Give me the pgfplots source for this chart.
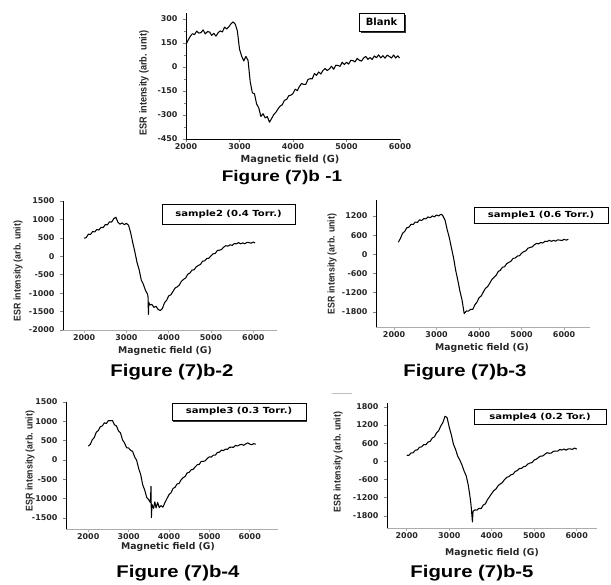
\documentclass[border=0pt]{standalone}
\usepackage{fontspec}
\setmainfont{Liberation Sans}
\newfontfamily\tickfont{DejaVu Sans}
\usepackage{graphicx}
\usepackage{pgfplots}
\pgfplotsset{compat=1.18}

\pgfplotsset{
  esr/.style={
    scale only axis,
    axis lines=left,
    axis line style={-, line width=0.8bp},
    enlargelimits=false,
    tick align=outside,
    tick pos=left,
    major tick length=3bp,
    tick style={line width=0.6bp},
    ticklabel style={font=\tickfont\bfseries\fontsize{8}{8}\selectfont, text=black!85},
    yticklabel style={xshift=-2bp},
    xticklabel style={yshift=2bp},
    /pgf/number format/assume math mode=true,
    /pgf/number format/1000 sep={},
    xtick={2000,3000,4000,5000,6000},
  },
  lower/.style={
    esr,
    x axis line style={gray!65, line width=1bp},
    xtick style={gray!65},
  },
  esrline/.style={black, line width=1.05bp, no markers, line join=round},
}

\tikzset{
  keybox/.style={draw=black, fill=white, line width=0.6bp, inner sep=0pt,
    font=\tickfont\bfseries\fontsize{8.4}{9}\selectfont},
  xlab/.style={font=\tickfont\bfseries\fontsize{9.3}{10}\selectfont, text=black!85},
  ylab/.style={rotate=90, font=\bfseries\fontsize{9.8}{10}\selectfont, text=black!85},
  figcap/.style={font=\bfseries\fontsize{17}{17}\selectfont},
}
\newcommand\keytext[1]{\scalebox{1.2}[1]{#1}}
\newcommand\esrlabel{\scalebox{0.9}[1]{ESR intensity (arb. unit)}}

\begin{document}
\begin{tikzpicture}
\path[use as bounding box] (0,0) rectangle (611bp,-585bp);

% ---------------- (7)b-1 : blank
\begin{axis}[esr, at={(186bp,-139bp)}, anchor=south west,
  width=214bp, height=126.4bp,
  xmin=2000, xmax=6000, ymin=-450, ymax=340,
  ytick={-450,-300,-150,0,150,300}, minor y tick num=1,
  minor tick length=2bp]
\addplot[esrline] coordinates {
(2000,140)(2040,168)(2080,192)(2120,208)(2160,203)(2200,224)(2240,212)(2280,215)
(2320,232)(2360,207)(2400,221)(2440,219)(2480,198)(2520,210)(2560,193)(2600,214)
(2640,226)(2680,219)(2720,249)(2760,238)(2800,251)(2840,270)(2880,282)(2920,268)
(2960,226)(3000,112)(3040,68)(3080,38)(3120,66)(3160,41)(3200,-92)(3240,-161)
(3280,-168)(3320,-231)(3360,-256)(3400,-309)(3440,-292)(3480,-318)(3520,-310)
(3560,-345)(3600,-322)(3640,-298)(3680,-283)(3720,-262)(3760,-244)(3800,-236)
(3840,-208)(3880,-203)(3920,-180)(3960,-176)(4000,-166)(4040,-139)(4080,-147)
(4120,-122)(4160,-103)(4200,-109)(4240,-108)(4280,-78)(4320,-73)(4360,-74)
(4400,-41)(4440,-52)(4480,-31)(4520,-44)(4560,-22)(4600,-9)(4640,-22)(4680,-12)
(4720,5)(4760,-14)(4800,11)(4840,10)(4880,4)(4920,30)(4960,15)(5000,30)(5040,18)
(5080,42)(5120,40)(5160,32)(5200,54)(5240,42)(5280,37)(5320,56)(5360,66)(5400,48)
(5440,59)(5480,47)(5520,69)(5560,58)(5600,76)(5640,57)(5680,71)(5720,55)(5760,74)
(5800,66)(5840,56)(5880,75)(5920,56)(5960,70)(5990,56)
};
\end{axis}
\fill[black!80] (360.5bp,-32.5bp) rectangle (405.5bp,-14.5bp);
\node[keybox, minimum width=45bp, minimum height=18bp, line width=0.8bp,
  font=\tickfont\bfseries\fontsize{10}{10}\selectfont] at (381.5bp,-22bp) {Blank};
\node[ylab, font=\bfseries\fontsize{10.2}{11}\selectfont] at (144bp,-83bp) {\esrlabel};
\node[xlab, font=\tickfont\bfseries\fontsize{9.8}{10}\selectfont] at (290bp,-160bp) {Magnetic field (G)};
\node[figcap] at (282bp,-178bp) {\scalebox{1.23}[1]{\fontsize{15.5}{16}\selectfont Figure (7)b -1}};

% ---------------- (7)b-2 : sample2
\begin{axis}[lower, at={(63bp,-330bp)}, anchor=south west,
  width=214bp, height=129bp,
  xmin=1500, xmax=6560, ymin=-2000, ymax=1500,
  ytick={-2000,-1500,-1000,-500,0,500,1000,1500}]
\addplot[esrline] coordinates {
(2000,490)(2050,508)(2100,600)(2150,592)(2200,672)(2250,661)(2300,728)(2350,712)
(2400,785)(2450,778)(2500,861)(2550,853)(2600,935)(2650,928)(2700,1022)(2750,1060)
(2800,920)(2850,872)(2900,905)(2950,858)(3000,893)(3050,842)(3100,640)(3150,365)
(3200,118)(3250,-168)(3300,-362)(3350,-641)(3400,-760)(3450,-925)(3500,-1030)
(3510,-1100)(3520,-1580)(3530,-1250)(3550,-1320)(3600,-1305)(3650,-1385)(3700,-1356)
(3750,-1445)(3800,-1470)(3850,-1420)(3900,-1262)(3950,-1192)(4000,-1075)(4050,-1045)
(4100,-955)(4150,-862)(4200,-830)(4250,-780)(4300,-678)(4350,-627)(4400,-588)
(4450,-486)(4500,-456)(4550,-376)(4600,-367)(4650,-287)(4700,-248)(4750,-220)
(4800,-134)(4850,-124)(4900,-57)(4950,-52)(5000,14)(5050,67)(5100,78)(5150,159)
(5200,165)(5250,186)(5300,250)(5350,287)(5400,276)(5450,311)(5500,296)(5550,346)
(5600,337)(5650,370)(5700,339)(5750,362)(5800,340)(5850,379)(5900,371)(5950,354)
(6000,388)(6040,362)
};
\end{axis}
\fill[black!80] (163.2bp,-225.2bp) rectangle (296.2bp,-205.2bp);
\node[keybox, minimum width=133bp, minimum height=20bp] at (228.5bp,-214bp) {\keytext{sample2 (0.4 Torr.)}};
\node[ylab] at (18bp,-271bp) {\esrlabel};
\node[xlab] at (165bp,-351bp) {Magnetic field (G)};
\node[figcap] at (172bp,-372bp) {\scalebox{1.2}[1]{Figure (7)b-2}};

% ---------------- (7)b-3 : sample1
\begin{axis}[lower, at={(376bp,-327bp)}, anchor=south west,
  width=214bp, height=127bp,
  xmin=1575, xmax=6610, ymin=-2270, ymax=1700,
  ytick={-1800,-1200,-600,0,600,1200}]
\addplot[esrline] coordinates {
(2100,380)(2150,500)(2200,662)(2250,718)(2300,832)(2350,851)(2400,942)(2450,938)
(2500,1012)(2550,998)(2600,1081)(2650,1058)(2700,1122)(2750,1108)(2800,1171)
(2850,1145)(2900,1202)(2950,1174)(3000,1232)(3050,1200)(3100,1256)(3140,1225)
(3200,1068)(3250,770)(3300,520)(3350,200)(3400,-110)(3450,-500)(3500,-812)
(3550,-1150)(3600,-1432)(3650,-1850)(3700,-1770)(3750,-1772)(3800,-1720)
(3850,-1722)(3900,-1580)(3950,-1492)(4000,-1355)(4050,-1300)(4100,-1175)
(4150,-1062)(4200,-1010)(4250,-905)(4300,-788)(4350,-717)(4400,-658)(4450,-536)
(4500,-496)(4550,-401)(4600,-387)(4650,-292)(4700,-248)(4750,-215)(4800,-124)
(4850,-114)(4900,-52)(4950,-42)(5000,34)(5050,87)(5100,108)(5150,194)(5200,215)
(5250,236)(5300,300)(5350,342)(5400,331)(5450,371)(5500,356)(5550,411)(5600,402)
(5650,440)(5700,409)(5750,435)(5800,415)(5850,454)(5900,446)(5950,434)(6000,470)
(6050,447)(6100,470)
};
\end{axis}
\fill[black!80] (475.2bp,-224.2bp) rectangle (609.2bp,-208.2bp);
\node[keybox, minimum width=134bp, minimum height=16bp] at (541bp,-215bp) {\keytext{sample1 (0.6 Torr.)}};
\node[ylab] at (332bp,-264bp) {\esrlabel};
\node[xlab] at (482bp,-348bp) {Magnetic field (G)};
\node[figcap] at (465bp,-372bp) {\scalebox{1.2}[1]{Figure (7)b-3}};

% ---------------- (7)b-4 : sample3
\begin{axis}[lower, at={(66bp,-529bp)}, anchor=south west,
  width=212bp, height=127bp,
  xmin=1450, xmax=6700, ymin=-1785, ymax=1500,
  ytick={-1500,-1000,-500,0,500,1000,1500}]
\addplot[esrline] coordinates {
(2000,360)(2050,402)(2100,521)(2150,582)(2200,718)(2250,762)(2300,860)(2350,882)
(2400,960)(2450,945)(2500,1020)(2540,1015)(2600,1022)(2650,910)(2700,880)(2750,750)
(2800,700)(2850,520)(2900,440)(2950,318)(3000,310)(3050,250)(3100,222)(3150,80)
(3200,-10)(3250,-222)(3300,-380)(3350,-642)(3400,-780)(3450,-972)(3500,-1030)
(3540,-1100)(3555,-680)(3565,-1490)(3580,-1150)(3620,-1250)(3650,-1080)(3680,-1240)
(3720,-1100)(3760,-1230)(3800,-1180)(3850,-1220)(3900,-1100)(3950,-1000)(4000,-897)
(4050,-848)(4100,-736)(4150,-706)(4200,-621)(4250,-607)(4300,-512)(4350,-458)
(4400,-425)(4450,-334)(4500,-319)(4550,-252)(4600,-242)(4650,-176)(4700,-123)
(4750,-112)(4800,-36)(4850,-35)(4900,-19)(4950,40)(5000,82)(5050,76)(5100,126)
(5150,126)(5200,196)(5250,202)(5300,255)(5350,244)(5400,282)(5450,275)(5500,329)
(5550,331)(5600,329)(5650,378)(5700,362)(5750,392)(5800,405)(5850,380)(5900,415)
(5950,443)(6000,410)(6050,395)(6100,422)(6150,408)
};
\end{axis}
\fill[black!80] (173.2bp,-421.7bp) rectangle (307.2bp,-404.7bp);
\node[keybox, minimum width=134bp, minimum height=17bp] at (239bp,-411.5bp) {\keytext{sample3 (0.3 Torr.)}};
\node[ylab] at (30bp,-461bp) {\esrlabel};
\node[xlab] at (168bp,-547bp) {Magnetic field (G)};
\node[figcap] at (178bp,-573bp) {\scalebox{1.2}[1]{Figure (7)b-4}};

% ---------------- (7)b-5 : sample4
\begin{axis}[lower, at={(387bp,-528bp)}, anchor=south west,
  width=209.7bp, height=125bp,
  xmin=1535, xmax=6470, ymin=-2200, ymax=1930,
  ytick={-1800,-1200,-600,0,600,1200,1800}]
\addplot[esrline] coordinates {
(2000,205)(2050,200)(2100,280)(2150,282)(2200,372)(2250,380)(2300,470)(2350,480)
(2400,560)(2450,550)(2500,642)(2550,660)(2600,772)(2650,810)(2700,942)(2750,1010)
(2800,1172)(2850,1282)(2900,1490)(2920,1480)(2950,1440)(3000,1130)(3050,872)
(3100,560)(3150,392)(3200,170)(3250,42)(3300,-120)(3350,-322)(3400,-480)(3450,-802)
(3500,-1280)(3520,-1550)(3545,-2000)(3560,-1650)(3600,-1600)(3650,-1612)(3700,-1548)
(3750,-1562)(3800,-1440)(3850,-1402)(3900,-1260)(3950,-1162)(4000,-1056)(4050,-963)
(4100,-912)(4150,-801)(4200,-745)(4250,-699)(4300,-600)(4350,-528)(4400,-504)
(4450,-444)(4500,-424)(4550,-334)(4600,-303)(4650,-235)(4700,-231)(4750,-173)
(4800,-160)(4850,-86)(4900,-54)(4950,-36)(5000,48)(5050,72)(5100,132)(5150,175)
(5200,180)(5250,235)(5300,288)(5350,270)(5400,275)(5450,332)(5500,343)(5550,337)
(5600,394)(5650,374)(5700,409)(5750,373)(5800,413)(5850,412)(5900,400)(5950,441)
(6000,408)
};
\end{axis}
\fill[black!80] (475.2bp,-425.2bp) rectangle (607.2bp,-410.2bp);
\node[keybox, minimum width=132bp, minimum height=15bp] at (540bp,-417bp) {\keytext{sample4 (0.2 Tor.)}};
\node[ylab] at (338bp,-462bp) {\esrlabel};
\node[xlab] at (492bp,-553bp) {Magnetic field (G)};
\node[figcap] at (472bp,-573bp) {\scalebox{1.2}[1]{Figure (7)b-5}};

\draw[gray!50, line width=0.8bp] (332bp,-393.5bp) -- (352bp,-393.5bp);
\end{tikzpicture}
\end{document}
